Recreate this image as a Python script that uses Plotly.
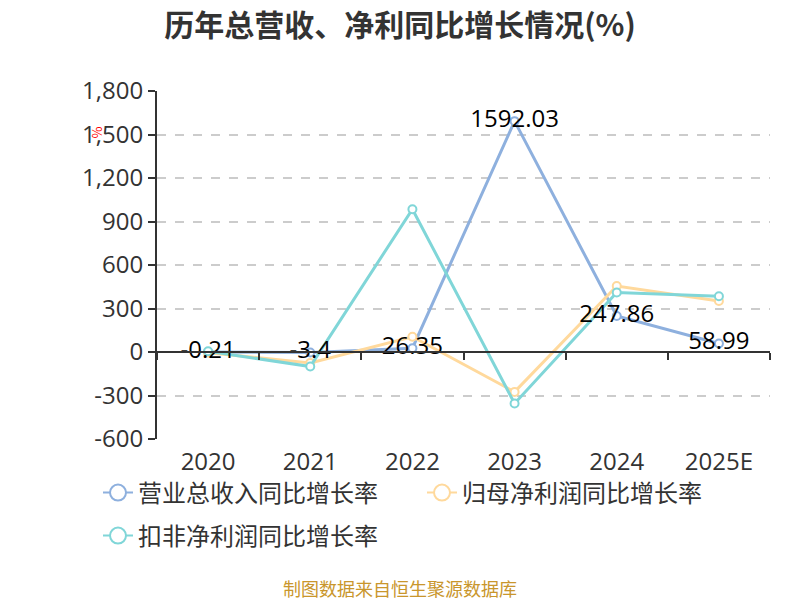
import plotly.graph_objects as go

years = ["2020", "2021", "2022", "2023", "2024", "2025E"]
revenue_growth = [-0.21, -3.4, 26.35, 1592.03, 247.86, 58.99]
parent_profit_growth = [-5, -75, 105, -275, 455, 352]
deducted_profit_growth = [5, -100, 985, -355, 410, 385]
series_names = ["营业总收入同比增长率", "归母净利润同比增长率", "扣非净利润同比增长率"]
colors = ["#8eb0de", "#ffd99c", "#80d6d8"]
ytickvals = [-600, -300, 0, 300, 600, 900, 1200, 1500, 1800]
yticktext = ["-600", "-300", "0", "300", "600", "900", "1,200", "1,500", "1,800"]
revenue_labels = ["-0.21", "-3.4", "26.35", "1592.03", "247.86", "58.99"]

CJK = "Noto Sans CJK SC"
NUM = "Open Sans, Noto Sans CJK SC"

# figure is drawn 8px in from the page corner (body margin); layout below compensates
L, T, R, B = 149, 83, 38, 169
PW, PH = 800 - L - R, 600 - T - B


def px(x):
    return (x - 8 - L) / PW


def py(y):
    return (600 - B - (y - 8)) / PH


fig = go.Figure()

for name, vals, c in zip(series_names,
                         [revenue_growth, parent_profit_growth, deducted_profit_growth],
                         colors):
    fig.add_trace(go.Scatter(
        x=years, y=vals, mode="lines+markers", name=name, showlegend=False,
        line=dict(color=c, width=3),
        marker=dict(symbol="circle", size=8, color="white", line=dict(color=c, width=2)),
        hoverinfo="skip"))

# revenue data labels on top
fig.add_trace(go.Scatter(
    x=years, y=revenue_growth, mode="text", text=revenue_labels,
    textposition="middle center", textfont=dict(family=NUM, size=24, color="#000"),
    showlegend=False, xaxis="x2", hoverinfo="skip"))

legend_ids = ["legend", "legend2", "legend3"]
for name, c, lid in zip(series_names, colors, legend_ids):
    fig.add_trace(go.Scatter(
        x=[None], y=[None], mode="lines+markers", name=name,
        line=dict(color=c, width=2),
        marker=dict(symbol="circle", size=16, color="white", line=dict(color=c, width=2)),
        legend=lid))

leg_common = dict(orientation="h", xanchor="left", yanchor="middle",
                  font=dict(family=CJK, size=24, color="#333"),
                  bgcolor="rgba(0,0,0,0)", itemsizing="trace")

fig.update_layout(
    width=800, height=600,
    paper_bgcolor="white", plot_bgcolor="white",
    margin=dict(l=L, r=R, t=T, b=B),
    font=dict(family=CJK, color="#333"),
    title=dict(text="历年总营收、净利同比增长情况(%)", x=392 / 800, xref="container",
               y=1 - 17 / 600, yref="container", xanchor="center", yanchor="middle",
               font=dict(family=CJK, size=30, color="#333", weight="bold")),
    xaxis=dict(type="category", categoryorder="array", categoryarray=years,
               range=[-0.5, 5.5], showgrid=False, showline=False, zeroline=False,
               ticks="", ticklabelstandoff=6,
               tickfont=dict(family=NUM, size=24, color="#333"),
               fixedrange=True),
    xaxis2=dict(type="category", categoryorder="array", categoryarray=years,
                range=[-0.5, 5.5], overlaying="x", anchor="free", position=0.25,
                side="bottom", showgrid=False, zeroline=False,
                showline=True, linecolor="#333", linewidth=2,
                ticks="outside", tickson="boundaries", ticklen=7, tickwidth=2,
                tickcolor="#333", showticklabels=False),
    yaxis=dict(range=[-600, 1800], tickvals=ytickvals, ticktext=yticktext,
               showgrid=True, gridcolor="#cccccc", griddash="dash", gridwidth=1.5,
               zeroline=False, showline=True, linecolor="#333", linewidth=2,
               ticks="outside", ticklen=7, tickwidth=2, tickcolor="#333",
               tickfont=dict(family=NUM, size=24, color="#333")),
    legend=dict(x=px(98), y=py(493), **leg_common),
    legend2=dict(x=px(422), y=py(493), **leg_common),
    legend3=dict(x=px(98), y=py(536), **leg_common),
    annotations=[
        dict(text="%", xref="paper", yref="paper", x=px(86), y=py(124),
             showarrow=False, textangle=90, font=dict(family=CJK, size=13, color="red")),
        dict(text="制图数据来自恒生聚源数据库", xref="paper", yref="paper",
             x=px(400), y=py(588), xanchor="center", yanchor="middle",
             showarrow=False, font=dict(family=CJK, size=18, color="#c9962c")),
    ],
)

fig.write_html("out.html")
